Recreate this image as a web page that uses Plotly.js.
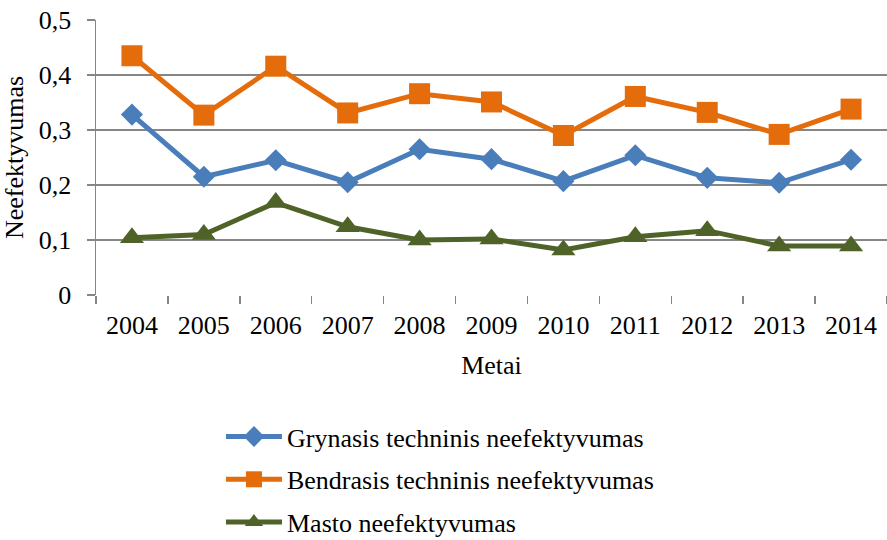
<!DOCTYPE html>
<html>
<head>
<meta charset="utf-8">
<script src="https://cdn.plot.ly/plotly-3.0.1.min.js"></script>
<style>html,body{margin:0;padding:0;background:#fff}#chart{width:887px;height:540px}</style>
</head>
<body>
<div id="chart"></div>
<script>
var years = ["2004","2005","2006","2007","2008","2009","2010","2011","2012","2013","2014"];
var grynasis = [0.328,0.215,0.245,0.205,0.265,0.247,0.207,0.254,0.213,0.204,0.246];
var bendrasis = [0.435,0.327,0.416,0.331,0.366,0.351,0.290,0.361,0.332,0.292,0.338];
var masto = [0.104,0.110,0.168,0.124,0.100,0.102,0.082,0.106,0.117,0.089,0.089];
var yTickVals = [0,0.1,0.2,0.3,0.4,0.5];
var yTickText = ["0","0,1","0,2","0,3","0,4","0,5"];
var names = ["Grynasis techninis neefektyvumas","Bendrasis techninis neefektyvumas","Masto neefektyvumas"];

var font = "'Liberation Serif', 'Times New Roman', serif";
var traces = [
  {x: years, y: grynasis, name: names[0], legendgroup: "a", type: "scatter", mode: "lines+markers",
   line: {color: "#4A7EBB", width: 5}, marker: {symbol: "diamond", size: 17, color: "#4A7EBB"}},
  {x: years, y: bendrasis, name: names[1], legendgroup: "b", type: "scatter", mode: "lines+markers",
   line: {color: "#E46C0A", width: 5}, marker: {symbol: "square", size: 21, color: "#E46C0A"}},
  {x: years, y: masto, name: names[2], legendgroup: "c", type: "scatter", mode: "lines+markers",
   line: {color: "#4F6228", width: 5}, marker: {symbol: "triangle-up", size: 21, color: "#4F6228"}}
];
var layout = {
  width: 887, height: 540,
  margin: {l: 96, r: 0, t: 20, b: 245, autoexpand: false},
  paper_bgcolor: "#fff", plot_bgcolor: "#fff",
  font: {family: font, size: 26, color: "#000"},
  showlegend: true,
  legend: {x: 0.158, xanchor: "left", xref: "paper", yref: "container", y: 0.235, yanchor: "top",
           font: {family: font, size: 26, color: "#000"},
           tracegroupgap: 6, itemwidth: 56, bgcolor: "rgba(0,0,0,0)"},
  xaxis: {type: "category", range: [-0.5, 10.5], tickson: "boundaries", ticks: "outside", ticklen: 8,
          tickcolor: "#868686", tickwidth: 1.5, showgrid: false, showline: false, zeroline: false,
          tickfont: {family: font, size: 26}, ticklabelstandoff: 12,
          title: {text: "Metai", font: {family: font, size: 26}, standoff: 16}},
  yaxis: {range: [0, 0.5], tickvals: yTickVals, ticktext: yTickText, ticks: "outside", ticklen: 8,
          tickcolor: "#868686", tickwidth: 1.5, showgrid: true, gridcolor: "#868686", gridwidth: 1.5,
          showline: true, linecolor: "#868686", linewidth: 1.5, zeroline: false, ticklabelstandoff: 10,
          tickfont: {family: font, size: 26},
          title: {text: "Neefektyvumas", font: {family: font, size: 26}, standoff: 8}}
};
Plotly.newPlot("chart", traces, layout, {staticPlot: true, displayModeBar: false});
</script>
</body>
</html>
